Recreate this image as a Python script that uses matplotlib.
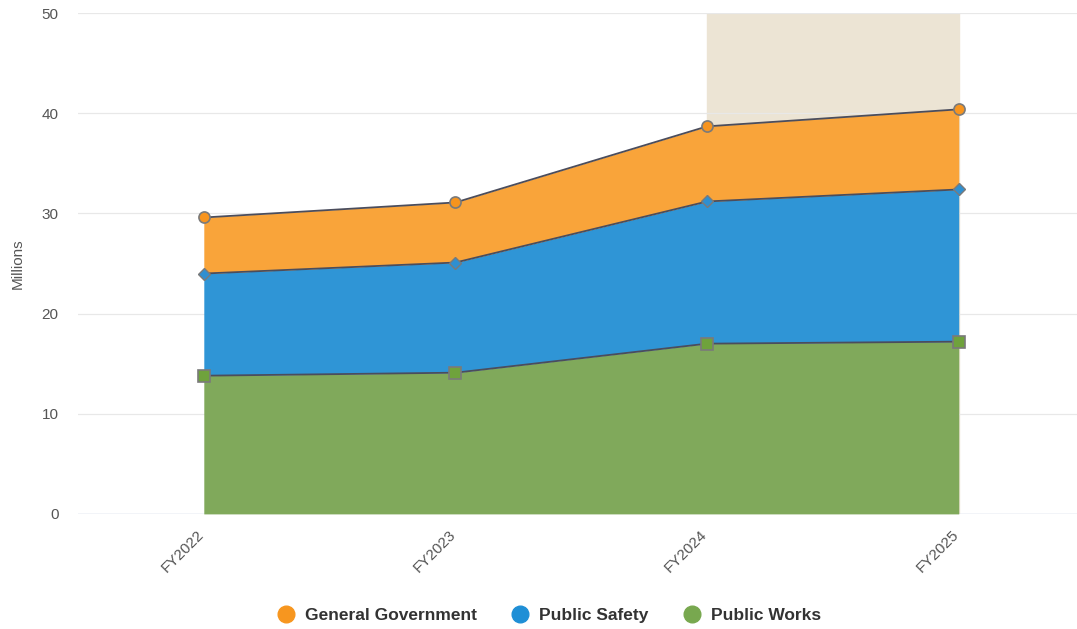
import numpy as np
import matplotlib.pyplot as plt
import matplotlib.transforms as mtransforms
from matplotlib.lines import Line2D

# data (millions)
years = ['FY2022', 'FY2023', 'FY2024', 'FY2025']
public_works = [13.8, 14.1, 17.0, 17.2]
public_safety = [10.2, 11.0, 14.2, 15.2]
general_government = [5.6, 6.0, 7.5, 8.0]
y_ticks = [0, 10, 20, 30, 40, 50]

plt.rcParams['font.family'] = ['Liberation Sans', 'DejaVu Sans']

def main():
  fig = plt.figure(figsize=(10.77, 6.29), dpi=100)
  ax = fig.add_axes([0.0724, 0.183, 0.9276, 0.796])
  x = np.arange(len(years))

  # forecast band
  ax.axvspan(2, 3, color='#ece4d4', zorder=0)

  pw = np.array(public_works)
  ps = pw + np.array(public_safety)
  gg = ps + np.array(general_government)

  ax.fill_between(x, 0, pw, color='#80a95b', lw=0, zorder=2)
  ax.fill_between(x, pw, ps, color='#2f95d6', lw=0, zorder=2)
  ax.fill_between(x, ps, gg, color='#f9a43a', lw=0, zorder=2)

  line_c = '#4b4d5c'
  ax.plot(x, pw, color=line_c, lw=1.3, marker='s', ms=8, mfc='#6fa23c', mec='#7a7a7a', mew=1.2, zorder=4)
  ax.plot(x, ps, color=line_c, lw=1.3, marker='D', ms=6, mfc='#2f8fd0', mec='#7a7a7a', mew=1.0, zorder=4)
  ax.plot(x, gg, color=line_c, lw=1.3, marker='o', ms=8, mfc='#f7941e', mec='#7a7a7a', mew=1.2, zorder=4)

  ax.set_xlim(-0.5, 3.47)
  ax.set_ylim(0, 50)
  ax.set_yticks(y_ticks)
  ax.set_xticks(x)
  ax.set_xticklabels(years, rotation=45, ha='right', rotation_mode='anchor')
  ax.tick_params(axis='both', length=0, colors='#555555', labelsize=11)
  ax.tick_params(axis='x', pad=10)
  ax.tick_params(axis='y', pad=14)
  shift = mtransforms.ScaledTranslation(-7 / 100, 0, fig.dpi_scale_trans)
  for lab in ax.get_xticklabels():
    lab.set_transform(lab.get_transform() + shift)
  ax.grid(axis='y', color='#e8e8e8', lw=0.9)
  ax.set_axisbelow(True)
  for s in ax.spines.values():
    s.set_visible(False)
  ax.axhline(0, color='#ccd6eb', lw=1, zorder=1)
  ax.set_ylabel('Millions', color='#555555', fontsize=11, labelpad=12)

  handles = [Line2D([], [], ls='', marker='o', ms=12, mfc=c, mec=c)
             for c in ['#f7961f', '#1f8fd6', '#78a84f']]
  labels = ['General Government', 'Public Safety', 'Public Works']
  leg = fig.legend(handles, labels, loc='center', bbox_to_anchor=(0.506, 0.022), ncol=3,
                   frameon=False, handletextpad=0.1, columnspacing=1.5,
                   prop={'weight': 'bold', 'size': 12.5})
  for t in leg.get_texts():
    t.set_color('#333333')

  fig.savefig('out.png', dpi=100)


if __name__ == '__main__':
  main()
